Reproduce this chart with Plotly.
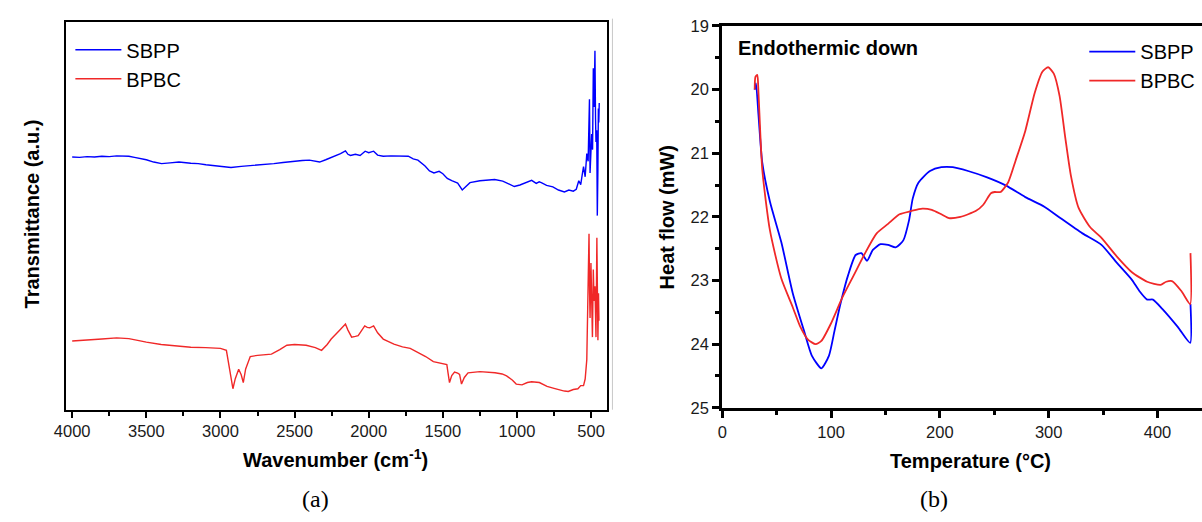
import plotly.graph_objects as go

# ---------------- FTIR data (panel a) ----------------
ftir_sbpp_wn = [4000, 3950, 3900, 3850, 3800, 3750, 3700, 3650, 3618, 3580, 3550, 3500, 3450, 3397, 3340,
                3280, 3200, 3150, 3098, 3000, 2929, 2860, 2786, 2700, 2640, 2578, 2500, 2448, 2400, 2331,
                2290, 2240, 2190, 2157, 2140, 2123, 2090, 2058, 2024, 2000, 1967, 1940, 1902, 1850, 1800,
                1733, 1700, 1668, 1620, 1590, 1560, 1525, 1500, 1470, 1440, 1400, 1369, 1340, 1317, 1250,
                1200, 1150, 1096, 1050, 1018, 980, 930, 901, 870, 850, 836, 800, 758, 720, 680, 650, 620,
                600, 583, 570, 560, 551, 540, 529, 520, 511, 507, 500, 496, 490, 485, 480, 474, 470, 467,
                462, 458, 454, 451, 448, 445]
ftir_sbpp_val = [65.1, 65.0, 65.2, 65.1, 65.3, 65.2, 65.4, 65.3, 65.3, 65.0, 64.8, 64.4, 63.8, 63.4, 63.6,
                 63.8, 63.5, 63.4, 63.1, 62.8, 62.4, 62.7, 62.9, 63.3, 63.4, 63.7, 64.1, 64.2, 64.3, 63.8,
                 64.4, 65.1, 66.0, 66.7, 65.8, 65.5, 65.8, 65.5, 66.6, 66.2, 66.6, 65.6, 65.3, 65.4, 65.3,
                 65.3, 64.6, 64.3, 62.8, 61.5, 61.0, 61.4, 60.8, 59.6, 59.0, 58.4, 56.6, 57.8, 58.5, 59.0,
                 59.1, 59.3, 58.9, 58.0, 57.5, 57.9, 58.7, 59.1, 58.3, 58.7, 58.5, 57.8, 57.4, 56.6, 56.1,
                 56.6, 56.3, 56.8, 59.0, 58.0, 60.5, 62.6, 60.0, 66.0, 64.0, 80.0, 61.0, 66.0, 71.0, 67.0,
                 88.0, 78.0, 92.5, 75.0, 69.0, 72.0, 50.0, 62.0, 77.6, 74.0, 79.0]

ftir_bpbc_wn = [4000, 3900, 3800, 3700, 3618, 3550, 3500, 3400, 3300, 3200, 3100, 3000, 2960, 2940, 2916,
                2900, 2877, 2860, 2846, 2830, 2799, 2750, 2656, 2600, 2552, 2500, 2422, 2360, 2318, 2280,
                2253, 2201, 2157, 2140, 2115, 2090, 2071, 2027, 2010, 1993, 1967, 1940, 1902, 1830, 1772,
                1720, 1670, 1616, 1564, 1520, 1473, 1465, 1455, 1440, 1421, 1400, 1387, 1374, 1355, 1330,
                1250, 1148, 1100, 1070, 1030, 1005, 966, 930, 901, 849, 820, 797, 750, 706, 680, 654, 620,
                589, 570, 551, 540, 529, 523, 514, 510, 507, 501, 496, 491, 485, 480, 474, 467, 461, 454,
                450, 447]
ftir_bpbc_val = [17.7, 17.9, 18.2, 18.5, 18.3, 17.8, 17.4, 16.8, 16.4, 16.1, 16.0, 15.8, 15.3, 11.2, 5.4,
                 8.0, 10.4, 9.0, 7.0, 10.5, 13.7, 14.0, 14.3, 15.5, 16.6, 16.8, 16.6, 16.0, 15.3, 16.8,
                 18.2, 20.3, 22.1, 20.5, 18.7, 18.9, 19.1, 21.6, 21.2, 21.1, 21.6, 19.8, 18.2, 16.9, 16.2,
                 15.8, 14.8, 13.7, 12.4, 12.1, 11.6, 9.5, 7.0, 8.8, 9.7, 9.4, 9.1, 6.6, 8.3, 9.5,
                 9.8, 9.5, 9.2, 8.7, 7.6, 6.6, 6.4, 7.0, 7.2, 7.0, 6.5, 6.0, 5.5, 5.0, 4.8, 4.7, 5.2,
                 5.4, 6.2, 6.2, 7.9, 12.9, 24.4, 45.3, 30.0, 23.6, 37.8, 25.0, 18.7, 36.1, 28.0, 31.8, 18.7,
                 44.3, 17.9, 30.0, 22.9]

ftir_ticks = [4000, 3500, 3000, 2500, 2000, 1500, 1000, 500]

# ---------------- DSC data (panel b) ----------------
dsc_sbpp_t = [29.8, 31.0, 33.3, 36.8, 43.8, 54.3, 64.8, 75.3, 82.3, 91.1, 98.1, 103.3, 108.6, 115.6, 122.6,
              127.8, 133.1, 138.4, 145.4, 152.4, 159.4, 166.4, 171.6, 175.1, 180.4, 190.9, 201.4, 211.9,
              225.9, 243.4, 260.9, 278.5, 296.0, 310.0, 331.0, 348.5, 362.5, 376.5, 383.5, 390.5, 395.8,
              404.6, 418.6, 430.0, 430.3]
dsc_sbpp_hf = [20.0, 19.9, 20.4, 21.15, 21.76, 22.4, 23.2, 23.8, 24.18, 24.38, 24.18, 23.78, 23.37, 22.92, 22.6,
               22.57, 22.69, 22.52, 22.43, 22.44, 22.48, 22.37, 22.06, 21.71, 21.46, 21.28, 21.22, 21.22,
               21.28, 21.38, 21.51, 21.69, 21.84, 22.01, 22.26, 22.44, 22.72, 22.99, 23.17, 23.3, 23.3,
               23.45, 23.73, 23.98, 23.37]

dsc_bpbc_t = [29.8, 30.5, 32.2, 33.3, 36.8, 43.8, 54.3, 64.8, 71.8, 78.8, 85.8, 91.1, 99.8, 110.3, 120.8,
              131.3, 141.9, 152.4, 162.9, 173.4, 183.9, 192.6, 201.4, 208.4, 218.9, 232.9, 239.9, 246.9,
              250.4, 255.7, 262.7, 269.7, 278.5, 287.2, 294.2, 299.5, 304.7, 310.0, 315.2, 320.5, 327.5,
              338.0, 348.5, 362.5, 376.5, 390.5, 402.8, 408.0, 413.3, 422.1, 430.0, 430.3]
dsc_bpbc_hf = [20.0, 19.8, 19.77, 20.05, 21.26, 22.21, 22.97, 23.42, 23.73, 23.93, 24.0, 23.95, 23.68, 23.27, 22.92,
               22.57, 22.26, 22.11, 21.96, 21.91, 21.87, 21.89, 21.96, 22.02, 22.0, 21.91, 21.81, 21.63,
               21.61, 21.61, 21.46, 21.11, 20.65, 20.05, 19.72, 19.65, 19.75, 20.1, 20.75, 21.36, 21.86,
               22.16, 22.33, 22.62, 22.87, 23.02, 23.07, 23.02, 23.01, 23.17, 23.37, 22.57]

dsc_xticks = [0, 100, 200, 300, 400]
dsc_yticks = [19, 20, 21, 22, 23, 24, 25]

BLUE = "#0000ff"
RED = "#f02828"
FONT = "Liberation Sans, Arial, sans-serif"
SERIF = "Liberation Serif, Times New Roman, serif"

fig = go.Figure()
fig.add_trace(go.Scatter(x=ftir_sbpp_wn, y=ftir_sbpp_val, mode="lines", name="SBPP",
                         line=dict(color=BLUE, width=1.4), xaxis="x", yaxis="y", legend="legend"))
fig.add_trace(go.Scatter(x=ftir_bpbc_wn, y=ftir_bpbc_val, mode="lines", name="BPBC",
                         line=dict(color=RED, width=1.4), xaxis="x", yaxis="y", legend="legend"))
fig.add_trace(go.Scatter(x=dsc_sbpp_t, y=dsc_sbpp_hf, mode="lines", name="SBPP",
                         line=dict(color=BLUE, width=1.8, shape="spline", smoothing=0.6),
                         xaxis="x2", yaxis="y2", legend="legend2"))
fig.add_trace(go.Scatter(x=dsc_bpbc_t, y=dsc_bpbc_hf, mode="lines", name="BPBC",
                         line=dict(color=RED, width=1.8, shape="spline", smoothing=0.6),
                         xaxis="x2", yaxis="y2", legend="legend2"))

W, H = 1202, 522
tickfont = dict(family=FONT, size=16.5, color="#1a1a1a")

fig.update_layout(
    width=W, height=H, margin=dict(l=0, r=0, t=0, b=0),
    paper_bgcolor="white", plot_bgcolor="white",
    font=dict(family=FONT, color="black"),
    xaxis=dict(domain=[54 / W, 600 / W], range=[4039, 396], anchor="y",
               tickmode="array", tickvals=ftir_ticks, ticktext=[str(v) for v in ftir_ticks],
               ticks="outside", ticklen=6, tickwidth=2, tickcolor="black",
               minor=dict(ticks="outside", ticklen=4, tickwidth=1.5, tickcolor="black", dtick=250, tick0=0),
               showline=True, linewidth=2, linecolor="black", mirror=True,
               showgrid=False, zeroline=False, tickfont=tickfont),
    yaxis=dict(domain=[1 - 415 / H, 1 - 13 / H], range=[0, 100], anchor="x",
               showticklabels=False, ticks="", showline=True, linewidth=2, linecolor="black",
               mirror=True, showgrid=False, zeroline=False),
    xaxis2=dict(domain=[717 / W, 1.0], range=[0, 440.9], anchor="y2",
                tickmode="array", tickvals=dsc_xticks, ticktext=[str(v) for v in dsc_xticks],
                ticks="outside", ticklen=7, tickwidth=3, tickcolor="black",
                minor=dict(ticks="outside", ticklen=4, tickwidth=2.5, tickcolor="black", dtick=50, tick0=0),
                showline=True, linewidth=3, linecolor="black", mirror=True,
                showgrid=False, zeroline=False, tickfont=tickfont),
    yaxis2=dict(domain=[1 - 413 / H, 1 - 17.5 / H], range=[25, 19], anchor="x2",
                tickmode="array", tickvals=dsc_yticks, ticktext=[str(v) for v in dsc_yticks],
                ticks="outside", ticklen=7, tickwidth=3, tickcolor="black",
                minor=dict(ticks="outside", ticklen=4, tickwidth=2.5, tickcolor="black", dtick=0.5, tick0=19),
                showline=True, linewidth=3, linecolor="black", mirror=False,
                showgrid=False, zeroline=False, tickfont=tickfont),
    legend=dict(x=58 / W, y=1 - 22 / H, xanchor="left", yanchor="top",
                bgcolor="rgba(0,0,0,0)", borderwidth=0, itemwidth=46,
                font=dict(family=FONT, size=20, color="black"), tracegroupgap=0),
    legend2=dict(x=1083 / W, y=1 - 24 / H, xanchor="left", yanchor="top",
                 bgcolor="rgba(0,0,0,0)", borderwidth=0, itemwidth=46,
                 font=dict(family=FONT, size=20, color="black"), tracegroupgap=0),
    showlegend=True,
)

annotations = [
    dict(text="<b>Wavenumber (cm<sup>-1</sup>)</b>", x=326 / W, y=1 - 466 / H, xref="paper", yref="paper",
         showarrow=False, font=dict(family=FONT, size=20, color="black"), xanchor="center", yanchor="middle"),
    dict(text="<b>Transmittance (a.u.)</b>", x=19 / W, y=1 - 212 / H, xref="paper", yref="paper",
         showarrow=False, textangle=-90, font=dict(family=FONT, size=20, color="black"),
         xanchor="center", yanchor="middle"),
    dict(text="<b>Temperature (°C)</b>", x=968 / W, y=1 - 468 / H, xref="paper", yref="paper",
         showarrow=False, font=dict(family=FONT, size=20, color="black"), xanchor="center", yanchor="middle"),
    dict(text="<b>Heat flow (mW)</b>", x=661 / W, y=1 - 216 / H, xref="paper", yref="paper",
         showarrow=False, textangle=-90, font=dict(family=FONT, size=20, color="black"),
         xanchor="center", yanchor="middle"),
    dict(text="<b>Endothermic down</b>", x=731 / W, y=1 - 40 / H, xref="paper", yref="paper",
         showarrow=False, font=dict(family=FONT, size=20, color="black"), xanchor="left", yanchor="middle"),
    dict(text="(a)", x=306 / W, y=1 - 507 / H, xref="paper", yref="paper", showarrow=False,
         font=dict(family=SERIF, size=24, color="black"), xanchor="center", yanchor="middle"),
    dict(text="(b)", x=931 / W, y=1 - 507 / H, xref="paper", yref="paper", showarrow=False,
         font=dict(family=SERIF, size=24, color="black"), xanchor="center", yanchor="middle"),
]
fig.update_layout(annotations=annotations)

fig.add_shape(type="line", xref="paper", yref="paper", x0=606 / W, x1=606 / W, y0=1 - 415 / H, y1=1 - 10 / H,
              line=dict(color="#c8c8c8", width=1))

fig.write_html("out.html")
